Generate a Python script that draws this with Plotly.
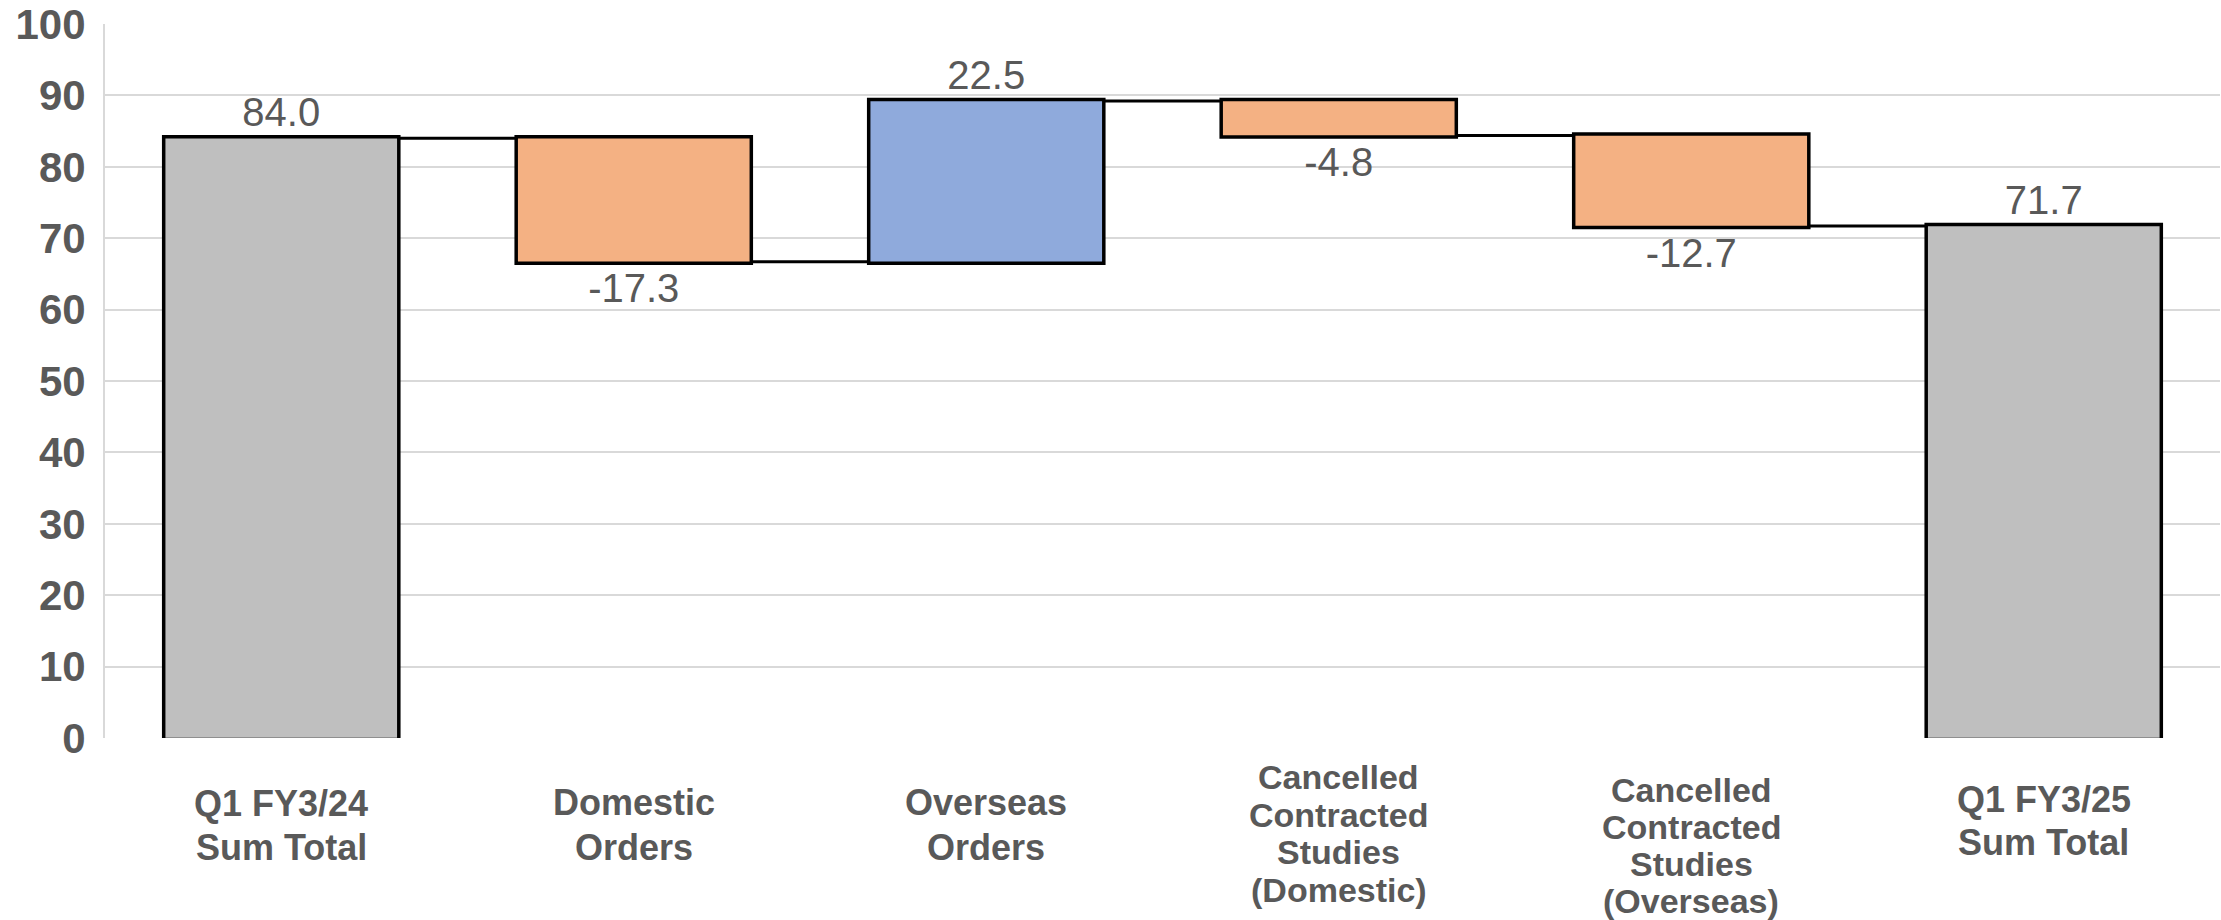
import plotly.graph_objects as go

# ---- data ----
categories = [
    "Q1 FY3/24<br>Sum Total",
    "Domestic<br>Orders",
    "Overseas<br>Orders",
    "Cancelled<br>Contracted<br>Studies<br>(Domestic)",
    "Cancelled<br>Contracted<br>Studies<br>(Overseas)",
    "Q1 FY3/25<br>Sum Total",
]
measures = ["absolute", "relative", "relative", "relative", "relative", "total"]
values = [84.0, -17.3, 22.5, -4.8, -12.7, 71.7]
value_labels = [f"{v:.1f}" for v in values]
y_ticks = list(range(0, 101, 10))

# ---- styles ----
GRAY_TEXT = "#595959"
FONT = "Liberation Sans, Arial, sans-serif"
W, H = 2221, 920
M_L, M_R, M_T, M_B = 105, 1, 24, 182
PLOT_BOTTOM_PX = H - M_B

# per-label layout: pixel centre of first line, line spacing, font size
label_first_center = [803.5, 802, 802, 777, 790, 799]
label_spacing = [44, 45, 45, 37.7, 37, 43]
label_size = [36, 36, 36, 34, 34, 36]

fig = go.Figure()
fig.add_trace(go.Waterfall(
    x=categories,
    y=values,
    measure=measures,
    text=value_labels,
    texttemplate="%{text}",
    textposition="outside",
    textfont=dict(family=FONT, size=40, color=GRAY_TEXT),
    constraintext="none",
    cliponaxis=False,
    increasing=dict(marker=dict(color="#8FAADC", line=dict(color="black", width=3.5))),
    decreasing=dict(marker=dict(color="#F4B183", line=dict(color="black", width=3.5))),
    totals=dict(marker=dict(color="#BFBFBF", line=dict(color="black", width=3.5))),
    connector=dict(line=dict(color="black", width=3), mode="between"),
    hoverinfo="skip",
))

annotations = []
for i, cat in enumerate(categories):
    lines = cat.split("<br>")
    for j, line in enumerate(lines):
        ypix = label_first_center[i] + j * label_spacing[i]
        annotations.append(dict(
            x=cat, xref="x", y=0, yref="paper",
            yshift=-(ypix - PLOT_BOTTOM_PX),
            text=f"<b>{line}</b>", showarrow=False,
            xanchor="center", yanchor="middle",
            font=dict(family=FONT, size=label_size[i], color=GRAY_TEXT),
        ))

fig.update_layout(
    width=W, height=H,
    margin=dict(l=M_L, r=M_R, t=M_T, b=M_B),
    paper_bgcolor="white", plot_bgcolor="white",
    showlegend=False,
    waterfallgap=0.333,
    annotations=annotations,
    font=dict(family=FONT, color=GRAY_TEXT),
)
fig.update_xaxes(
    showticklabels=False, showgrid=False, ticks="",
    showline=False, zeroline=False,
)
fig.update_yaxes(
    range=[0, 100], tickvals=y_ticks,
    ticktext=[f"<b>{t}</b>" for t in y_ticks],
    tickfont=dict(family=FONT, size=42, color=GRAY_TEXT),
    showgrid=True, gridcolor="#D9D9D9", gridwidth=2,
    showline=True, linecolor="#D9D9D9", linewidth=2,
    zeroline=False, ticks="", ticklabelstandoff=9,
)

fig.write_html("out.html")
